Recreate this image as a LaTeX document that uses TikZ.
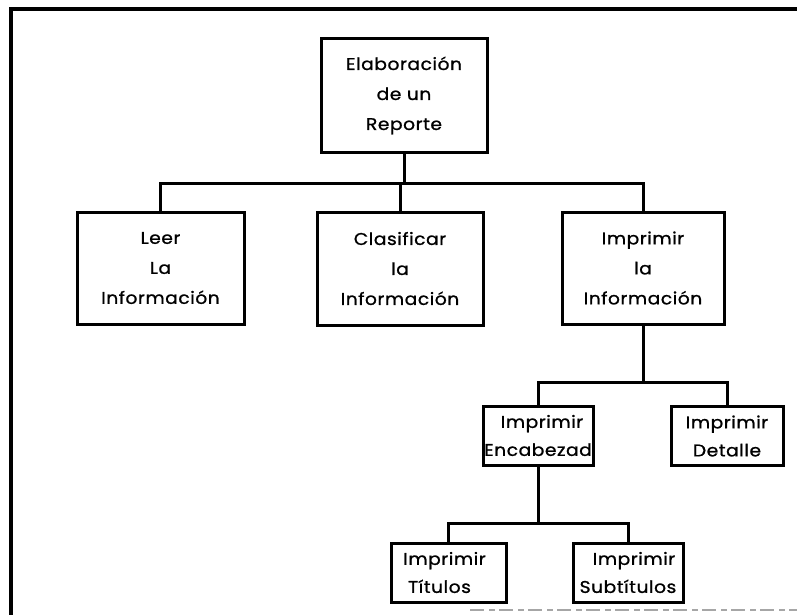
\documentclass[tikz,border=0pt]{standalone}
\usepackage{fontspec}
\setmainfont{Poppins}[FakeBold=1,FakeStretch=1.1,LetterSpace=3]
\begin{document}
\begin{tikzpicture}[x=1pt,y=-1pt,
  wire/.style={line width=3pt,line cap=rect,line join=miter},
  bigbox/.style={draw,line width=3pt,align=center,inner sep=0pt,
    font=\fontsize{17}{30}\selectfont},
  smallbox/.style={draw,line width=3pt,align=center,inner sep=0pt,
    minimum height=59pt,font=\fontsize{17}{28}\selectfont}]
\useasboundingbox (0,0) rectangle (797,615);

% page frame
\draw[line width=3.2pt] (797,9) -- (11,9) -- (11,615);
\draw[line width=1.6pt,gray!70,dash pattern=on 14pt off 5pt on 6pt off 4pt] (470,610) -- (797,610);

% top level
\node[bigbox,minimum width=166pt,minimum height=113pt] (top) at (404,95.5)
  {Elaboración\\de un\\Reporte};

% second level
\node[bigbox,minimum width=167pt,minimum height=112pt] (leer) at (160.5,268)
  {Leer\\La\\Información};
\node[bigbox,minimum width=166pt,minimum height=113pt] (clas) at (400,268.5)
  {Clasificar\\la\\Información};
\node[bigbox,minimum width=162pt,minimum height=112pt] (impr) at (643,268)
  {Imprimir\\la\\Información};

% third level
\node[smallbox,minimum width=110pt] (enc) at (538,435.5)
  {\hspace*{8pt}Imprimir\\Encabezad};
\node[smallbox,minimum width=112pt] (det) at (727,436)
  {Imprimir\\Detalle};

% fourth level
\node[smallbox,minimum width=115pt] (tit) at (448.5,572.5)
  {Imprimir\hspace*{8pt}\\Títulos\hspace*{18pt}};
\node[smallbox,minimum width=110pt] (sub) at (628,572.5)
  {\hspace*{12pt}Imprimir\\Subtítulos};

% bus lines
\coordinate (busA) at (0,183);
\coordinate (busB) at (0,382);
\coordinate (busC) at (0,523);

\draw[wire] (top.south) -- (top.south |- busA);
\draw[wire] (leer.north) |- (impr.north |- busA) -- (impr.north);
\draw[wire] (clas.north) -- (clas.north |- busA);

\draw[wire] (impr.south) -- (impr.south |- busB);
\draw[wire] (enc.north) |- (det.north |- busB) -- (det.north);

\draw[wire] (enc.south) -- (enc.south |- busC);
\draw[wire] (tit.north) |- (sub.north |- busC) -- (sub.north);
\end{tikzpicture}
\end{document}
